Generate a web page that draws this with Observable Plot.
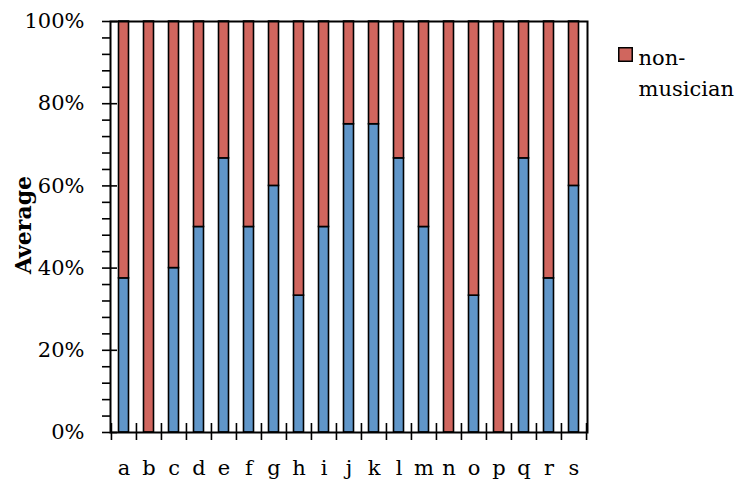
<!DOCTYPE html>
<html>
<head>
<meta charset="utf-8">
<script src="https://cdn.jsdelivr.net/npm/d3@7"></script>
<script src="https://cdn.jsdelivr.net/npm/@observablehq/plot@0.6"></script>
<style>
  html, body { margin: 0; padding: 0; background: #fff; }
  #wrap { position: relative; width: 744px; height: 481px; font-family: "DejaVu Serif", serif; }
</style>
</head>
<body>
<div id="wrap">
  <div id="chart"></div>
</div>
<script>
const categories = ["a","b","c","d","e","f","g","h","i","j","k","l","m","n","o","p","q","r","s"];
const musician = [0.375, 0, 0.40, 0.50, 0.667, 0.50, 0.60, 0.333, 0.50, 0.75, 0.75, 0.667, 0.50, 0, 0.333, 0, 0.667, 0.375, 0.60];
const seriesNames = ["musician", "non-musician"];
const seriesColors = ["#6096c9", "#d0665e"];
const legendLabel = ["non-\nmusician"];
const majorTicks = [0, 0.2, 0.4, 0.6, 0.8, 1.0];
const minorTicks = d3.range(0, 26).map(i => i * 0.04);
const yTitle = ["Average"];

const data = [];
categories.forEach((c, i) => {
  data.push({cat: c, series: seriesNames[0], value: musician[i]});
  data.push({cat: c, series: seriesNames[1], value: 1 - musician[i]});
});

const W = 744, H = 481, mL = 110, mR = 157, mT = 21, mB = 49;
const plotW = W - mL - mR, plotH = H - mT - mB;
const bw = plotW / categories.length;

const chart = Plot.plot({
  width: W, height: H,
  marginLeft: mL, marginRight: mR, marginTop: mT, marginBottom: mB,
  style: {fontFamily: "DejaVu Serif", fontSize: "21px", color: "#000", background: "#fff"},
  x: {domain: categories, padding: 0, label: null},
  y: {domain: [0, 1], label: null},
  color: {domain: seriesNames, range: seriesColors},
  marks: [
    Plot.barY(data, {x: "cat", y: "value", fill: "series", order: seriesNames,
      stroke: "#000", strokeWidth: 1.6, insetLeft: 7.5, insetRight: 7.5}),
    Plot.frame({stroke: "#000", strokeWidth: 2}),
    Plot.axisY({ticks: minorTicks, tickSize: 8, tickFormat: () => "", strokeWidth: 1.6, label: null}),
    Plot.ruleY(majorTicks, {y: d => d, insetRight: plotW - 7, stroke: "#000", strokeWidth: 1.6}),
    Plot.axisY({ticks: majorTicks, tickSize: 0, tickPadding: 26, tickFormat: d3.format(".0%"), fontSize: 21, label: null}),
    Plot.ruleX(categories, {x: d => d, dx: -bw / 2, insetTop: plotH - 9, insetBottom: -8, stroke: "#000", strokeWidth: 1.6}),
    Plot.ruleX(categories.slice(-1), {x: d => d, dx: bw / 2, insetTop: plotH - 9, insetBottom: -8, stroke: "#000", strokeWidth: 1.6}),
    Plot.axisX({tickSize: 0, tickPadding: 28, fontSize: 21, label: null}),
    Plot.text(yTitle, {text: d => d, frameAnchor: "left", textAnchor: "middle", dx: -87, dy: -2, rotate: -90,
      fontSize: 22, fontWeight: "bold", fill: "#000"}),
    Plot.dot(seriesNames.slice(1), {frameAnchor: "top-right", dx: 38, dy: 33, symbol: "square", r: 7.6,
      fill: seriesColors[1], stroke: "#000", strokeWidth: 1.5}),
    Plot.text(legendLabel, {text: d => d, frameAnchor: "top-right", dx: 51, dy: 22, textAnchor: "start",
      lineAnchor: "top", lineHeight: 1.45, fontSize: 21, fill: "#000"})
  ]
});
document.getElementById("chart").appendChild(chart);
</script>
</body>
</html>
